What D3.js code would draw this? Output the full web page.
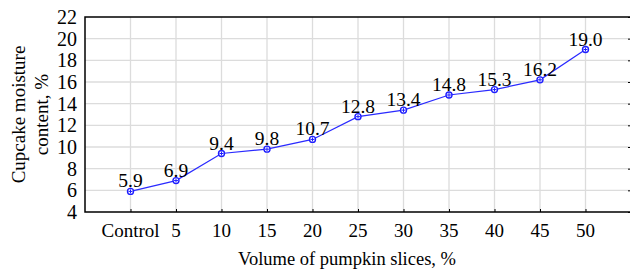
<!DOCTYPE html>
<html>
<head>
<meta charset="utf-8">
<script src="https://cdn.jsdelivr.net/npm/d3@7"></script>
<style>
  body { margin: 0; background: #fff; }
  text { font-family: "Liberation Serif", "Times New Roman", serif; fill: #000; }
</style>
</head>
<body>
<div id="viz"></div>
<script>
const categories = ["Control", "5", "10", "15", "20", "25", "30", "35", "40", "45", "50"]
const moisture = [5.9, 6.9, 9.4, 9.8, 10.7, 12.8, 13.4, 14.8, 15.3, 16.2, 19.0]
const yTicks = [4, 6, 8, 10, 12, 14, 16, 18, 20, 22]

const width = 630
const height = 270
const margin = {top: 17, right: -1, bottom: 58, left: 85}
const innerW = width - margin.left - margin.right
const innerH = height - margin.top - margin.bottom

const svg = d3.select("#viz").append("svg").attr("width", width).attr("height", height)
const g = svg.append("g").attr("transform", `translate(${margin.left},${margin.top})`)

const xScale = d3.scalePoint().domain(categories).range([0, innerW]).padding(1)
const yScale = d3.scaleLinear().domain([4, 22]).range([innerH, 0])

// grid
g.append("g").selectAll("line").data(yTicks.slice(1, -1)).join("line")
  .attr("x1", 0).attr("x2", innerW)
  .attr("y1", d => yScale(d)).attr("y2", d => yScale(d))
  .attr("stroke", "#dcdcdc").attr("stroke-width", 1.3)
g.append("g").selectAll("line").data(categories).join("line")
  .attr("x1", d => xScale(d)).attr("x2", d => xScale(d))
  .attr("y1", 0).attr("y2", innerH)
  .attr("stroke", "#dcdcdc").attr("stroke-width", 1.3)

// axes
const yAxis = d3.axisLeft(yScale).tickValues(yTicks).tickSize(0).tickPadding(8)
const yG = g.append("g").call(yAxis)
yG.select(".domain").remove()
yG.selectAll("text").style("font-size", "20px")

const yRight = d3.axisLeft(yScale).tickValues(yTicks).tickSize(3).tickFormat("")
const yrG = g.append("g").attr("transform", `translate(${innerW},0)`).call(yRight)
yrG.select(".domain").remove()

const xAxis = d3.axisTop(xScale).tickSize(3).tickFormat("")
const xG = g.append("g").attr("transform", `translate(0,${innerH})`).call(xAxis)
xG.select(".domain").remove()
g.append("g").selectAll("text").data(categories).join("text")
  .attr("x", d => xScale(d)).attr("y", innerH + 25)
  .attr("text-anchor", "middle").style("font-size", "19px")
  .text(d => d)

// frame
g.append("path")
  .attr("d", `M${innerW},0H0V${innerH}H${innerW}`)
  .attr("fill", "none").attr("stroke", "#000").attr("stroke-width", 1.5)

// line and markers
const line = d3.line().x((d, i) => xScale(categories[i])).y(d => yScale(d))
g.append("path").datum(moisture).attr("d", line)
  .attr("fill", "none").attr("stroke", "#2a2aff").attr("stroke-width", 1.2)

const pts = g.append("g").selectAll("g").data(moisture).join("g")
  .attr("transform", (d, i) => `translate(${xScale(categories[i])},${yScale(d)})`)
pts.append("circle").attr("r", 3).attr("fill", "#fff").attr("stroke", "#1e1eff").attr("stroke-width", 1.4)
pts.append("path").attr("d", "M-2,0H2M0,-2V2").attr("stroke", "#1e1eff").attr("stroke-width", 1)

// value labels
g.append("g").selectAll("text").data(moisture).join("text")
  .attr("x", (d, i) => xScale(categories[i]))
  .attr("y", d => yScale(d) - 4)
  .attr("text-anchor", "middle").style("font-size", "19.5px")
  .text(d => d.toFixed(1))

// axis titles
svg.append("text")
  .attr("x", 347).attr("y", 265)
  .attr("text-anchor", "middle").style("font-size", "18.5px")
  .text("Volume of pumpkin slices, %")

const yTitle = svg.append("text")
  .attr("transform", `translate(25,${margin.top + innerH / 2}) rotate(-90)`)
  .attr("text-anchor", "middle").style("font-size", "19px")
yTitle.append("tspan").attr("x", 0).attr("dy", 0).text("Cupcake moisture")
yTitle.append("tspan").attr("x", 0).attr("dy", 23).text("content, %")
</script>
</body>
</html>
